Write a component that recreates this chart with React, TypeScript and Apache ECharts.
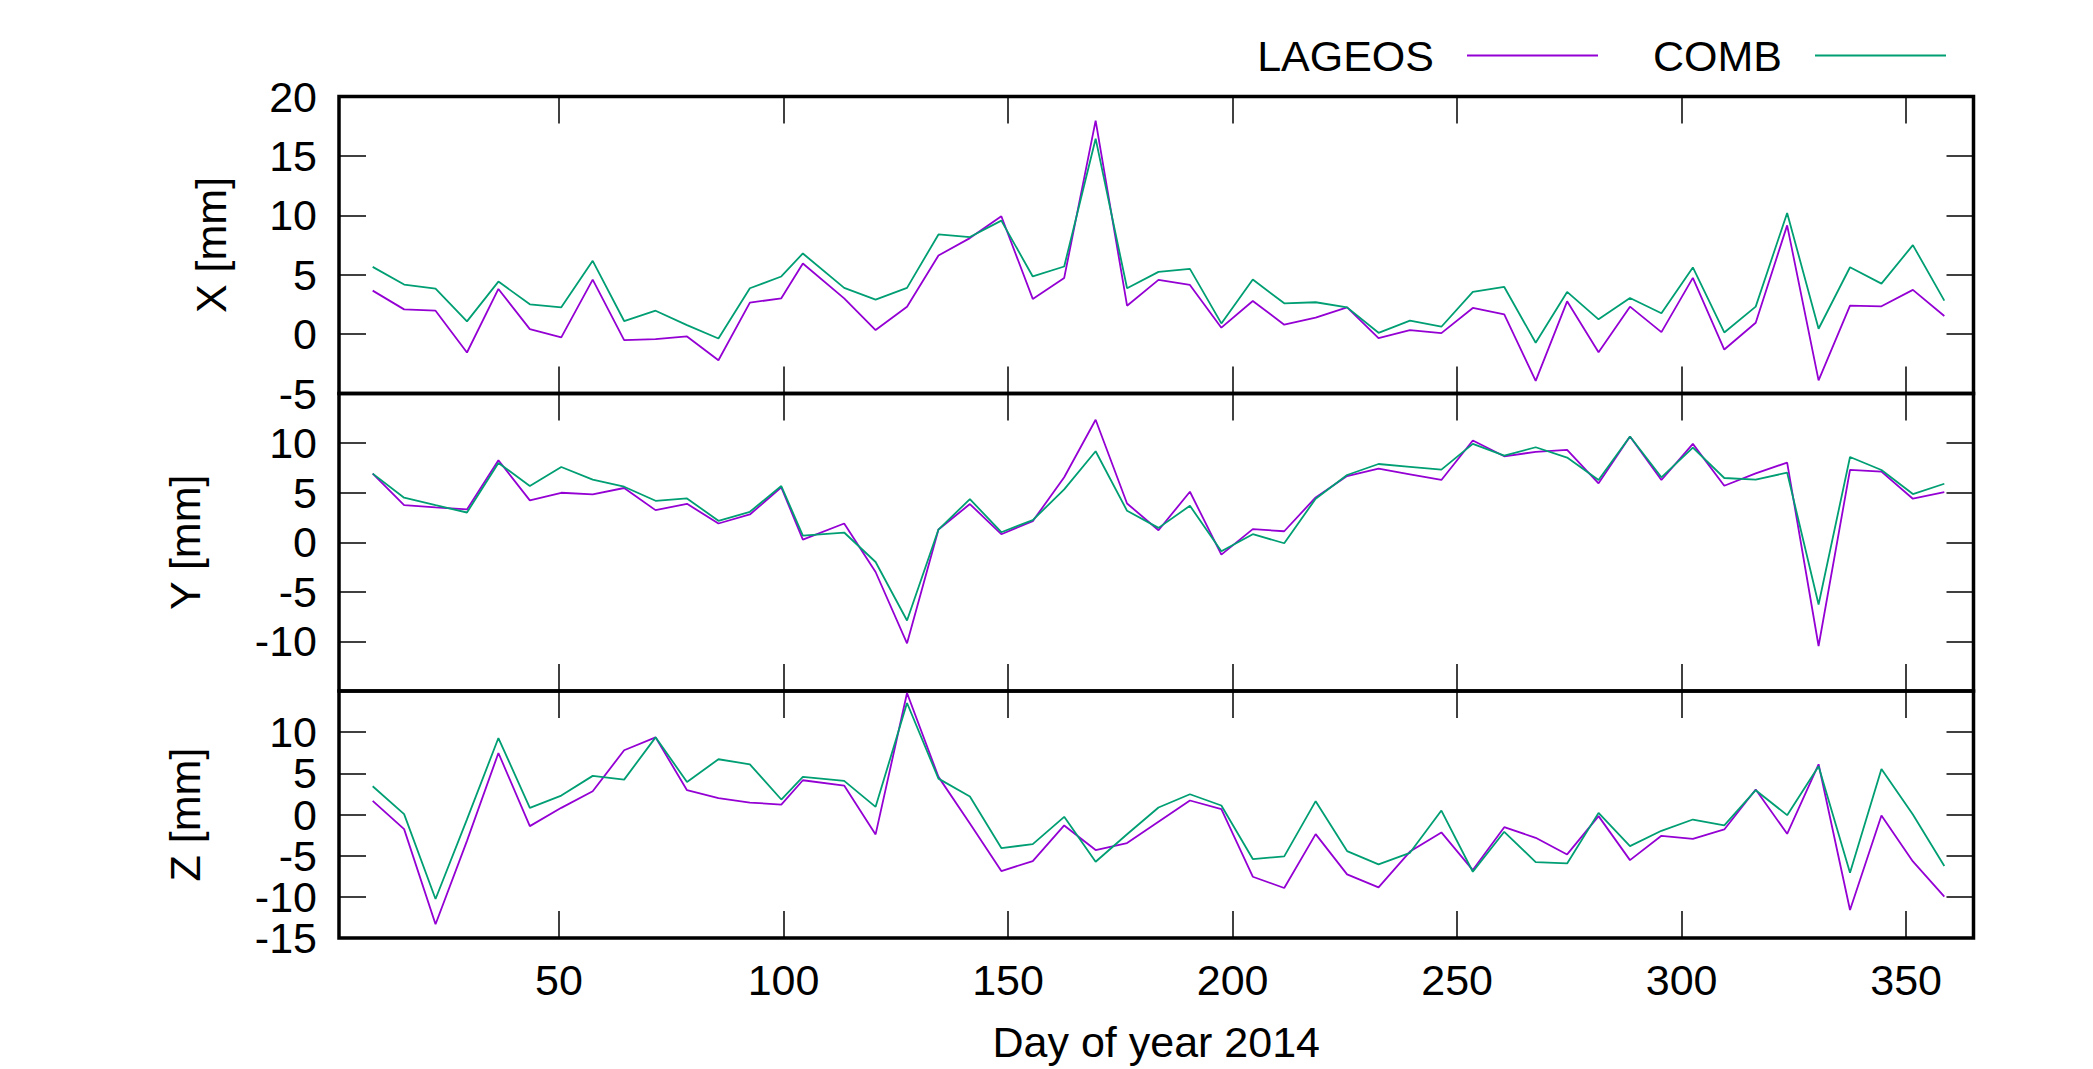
import React, { useEffect, useRef } from "react";
import * as echarts from "echarts";

const days = [8.5, 15.5, 22.5, 29.5, 36.5, 43.5, 50.5, 57.5, 64.5, 71.5, 78.5, 85.5, 92.5, 99.5, 104.3, 113.5, 120.5, 127.5,
  134.5, 141.5, 148.5, 155.5, 162.5, 169.5, 176.5, 183.5, 190.5, 197.5, 204.5, 211.5, 218.5, 225.5, 232.5, 239.5, 246.5, 253.5,
  260.5, 267.5, 274.5, 281.5, 288.5, 295.5, 302.5, 309.5, 316.5, 323.5, 330.5, 337.5, 344.5, 351.5, 358.5];

const xLageos = [3.66, 2.08, 1.97, -1.55, 3.8, 0.42, -0.28, 4.59, -0.51, -0.42, -0.2, -2.2, 2.65, 3.01, 5.94, 3.01, 0.34, 2.31,
  6.62, 8.08, 9.92, 2.96, 4.73, 17.97, 2.39, 4.56, 4.14, 0.54, 2.79, 0.79, 1.38, 2.25, -0.34, 0.34, 0.08, 2.2,
  1.66, -3.94, 2.76, -1.52, 2.31, 0.17, 4.73, -1.3, 0.96, 9.15, -3.89, 2.39, 2.34, 3.72, 1.52];
const xComb = [5.66, 4.17, 3.83, 1.07, 4.42, 2.51, 2.25, 6.17, 1.1, 1.97, 0.76, -0.37, 3.86, 4.85, 6.79, 3.89, 2.9, 3.89,
  8.39, 8.17, 9.55, 4.85, 5.69, 16.45, 3.86, 5.24, 5.49, 0.9, 4.59, 2.59, 2.68, 2.25, 0.11, 1.13, 0.62, 3.55,
  3.97, -0.73, 3.55, 1.24, 3.04, 1.75, 5.61, 0.14, 2.31, 10.2, 0.45, 5.63, 4.25, 7.49, 2.82];

const yLageos = [6.92, 3.74, 3.51, 3.31, 8.27, 4.22, 4.99, 4.82, 5.47, 3.24, 3.88, 1.89, 2.8, 5.53, 0.27, 1.89, -3.0, -10.19,
  1.28, 3.85, 0.81, 2.13, 6.55, 12.35, 3.91, 1.21, 5.09, -1.25, 1.32, 1.11, 4.52, 6.68, 7.42, 6.85, 6.28, 10.26,
  8.67, 9.11, 9.31, 5.94, 10.66, 6.28, 9.92, 5.7, 6.95, 8.03, -10.46, 7.29, 7.12, 4.39, 5.06];
const yComb = [6.92, 4.49, 3.74, 3.0, 8.0, 5.67, 7.59, 6.31, 5.6, 4.18, 4.42, 2.16, 3.07, 5.67, 0.67, 0.98, -1.99, -7.89,
  1.28, 4.35, 1.01, 2.23, 5.33, 9.18, 3.17, 1.45, 3.68, -0.91, 0.81, -0.1, 4.39, 6.78, 7.89, 7.6, 7.32, 9.92,
  8.74, 9.58, 8.54, 6.28, 10.66, 6.55, 9.55, 6.48, 6.31, 7.02, -6.28, 8.6, 7.29, 4.86, 5.9];

const zLageos = [1.66, -1.78, -13.33, -3.2, 7.47, -1.41, 0.81, 2.83, 7.8, 9.37, 2.95, 1.98, 1.45, 1.21, 4.16, 3.52, -2.42, 14.75,
  4.57, -1.09, -6.87, -5.66, -1.33, -4.32, -3.47, -0.89, 1.7, 0.65, -7.56, -8.93, -2.38, -7.27, -8.85, -4.5, -2.18, -6.75,
  -1.54, -2.83, -4.85, -0.2, -5.54, -2.59, -2.95, -1.82, 3.03, -2.34, 6.1, -11.6, -0.12, -5.7, -9.98];
const zComb = [3.43, 0.04, -10.26, -0.6, 9.29, 0.81, 2.3, 4.69, 4.24, 9.37, 3.96, 6.71, 6.1, 1.82, 4.57, 4.08, 0.93, 13.54,
  4.36, 2.18, -4.08, -3.6, -0.28, -5.74, -2.4, 0.85, 2.46, 1.09, -5.41, -5.09, 1.62, -4.44, -6.06, -4.65, 0.48, -6.95,
  -2.1, -5.78, -5.94, 0.2, -3.84, -1.98, -0.61, -1.33, 2.95, -0.08, 5.86, -7.07, 5.54, 0.0, -6.26];

const xTickValues = [50, 100, 150, 200, 250, 300, 350];
const panelNames = ["X [mm]", "Y [mm]", "Z [mm]"];
const panelRanges = [[-5, 20], [-15, 15], [-15, 15]];
// extra end labels shown per panel (X: both ends, Y: none, Z: bottom only)
const panelEndLabels = [[-5, 20], [], [-15]];
const seriesNames = ["LAGEOS", "COMB"];
const colors = ["#9400d3", "#009e73"];
const xLabel = "Day of year 2014";

const FONT = "'Liberation Sans', Arial, sans-serif";
const FS = 43;

export default function App() {
  const ref = useRef<HTMLDivElement>(null);
  useEffect(() => {
    if (!ref.current) return;
    const chart = echarts.init(ref.current, null, { renderer: "svg" });
    const grids = [
      { left: 339, right: 119.5, top: 96.5, height: 297 },
      { left: 339, right: 119.5, top: 393.5, height: 297.5 },
      { left: 339, right: 119.5, top: 691, height: 247 },
    ].map((g) => ({ ...g, show: true, borderColor: "#000", borderWidth: 3.5, backgroundColor: "transparent" }));

    const tick = { show: true, inside: true, length: 27, lineStyle: { color: "#000", width: 1.5 } };
    const noLine = { show: false, onZero: false };
    const labelStyle = { fontFamily: FONT, fontSize: FS, color: "#000" };
    const xAxes: any[] = [];
    const yAxes: any[] = [];
    const seriesYAxis: number[] = [];
    for (let i = 0; i < 3; i++) {
      const isLast = i === 2;
      xAxes.push({
        type: "value", gridIndex: i, position: "bottom", min: 1, max: 365,
        axisLine: noLine, splitLine: { show: false },
        axisTick: { ...tick, customValues: xTickValues },
        axisLabel: { show: isLast, customValues: xTickValues, margin: 20, ...labelStyle },
        name: isLast ? xLabel : "", nameLocation: "middle", nameGap: 82,
        nameTextStyle: labelStyle,
      });
      xAxes.push({
        type: "value", gridIndex: i, position: "top", min: 1, max: 365,
        axisLine: noLine, splitLine: { show: false },
        axisTick: { ...tick, customValues: xTickValues },
        axisLabel: { show: false, customValues: xTickValues },
      });
      const [mn, mx] = panelRanges[i];
      seriesYAxis.push(yAxes.length);
      yAxes.push({
        type: "value", gridIndex: i, position: "left", min: mn, max: mx, interval: 5,
        axisLine: noLine, splitLine: { show: false }, axisTick: tick,
        axisLabel: { margin: 22, ...labelStyle, showMinLabel: false, showMaxLabel: false },
        name: panelNames[i], nameLocation: "middle", nameRotate: 90,
        nameGap: i === 0 ? 107 : 133,
        nameTextStyle: labelStyle,
      });
      yAxes.push({
        type: "value", gridIndex: i, position: "right", min: mn, max: mx, interval: 5,
        axisLine: noLine, splitLine: { show: false }, axisTick: tick,
        axisLabel: { show: false },
      });
      if (panelEndLabels[i].length) {
        yAxes.push({
          type: "value", gridIndex: i, position: "left", min: mn, max: mx,
          axisLine: noLine, splitLine: { show: false }, axisTick: { show: false },
          axisLabel: { margin: 22, ...labelStyle, customValues: panelEndLabels[i] },
        });
      }
    }

    const dataSets = [[xLageos, xComb], [yLageos, yComb], [zLageos, zComb]];
    const series: any[] = [];
    dataSets.forEach((pair, i) => {
      pair.forEach((vals, k) => {
        series.push({
          name: seriesNames[k], type: "line", xAxisIndex: 2 * i, yAxisIndex: seriesYAxis[i],
          data: days.map((d, j) => [d, vals[j]]),
          showSymbol: false, symbol: "none", color: colors[k],
          lineStyle: { color: colors[k], width: 1.8 },
        });
      });
    });

    chart.setOption({
      animation: false,
      backgroundColor: "#fff",
      legend: {
        data: seriesNames, align: "right", icon: "rect", itemWidth: 131, itemHeight: 2, itemGap: 55,
        right: 147, top: 34, padding: 0,
        textStyle: { ...labelStyle, padding: [0, 28, 0, 0] },
      },
      grid: grids, xAxis: xAxes, yAxis: yAxes, series,
    });
    return () => chart.dispose();
  }, []);
  return <div ref={ref} style={{ position: "fixed", left: 0, top: 0, width: 2093, height: 1069 }} />;
}
